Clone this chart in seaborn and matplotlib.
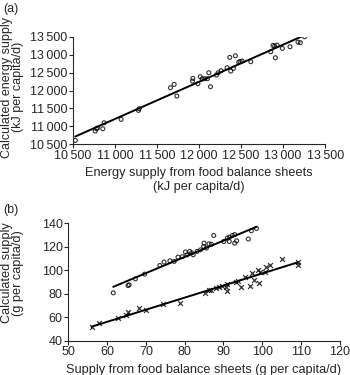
import seaborn as sns
import pandas as pd
import matplotlib.pyplot as plt
from matplotlib.ticker import FuncFormatter

# (a) energy supply, kJ per capita/d
energy_fbs = [10530, 10766, 10781, 10793, 10856, 10872, 11075, 11281, 11289, 11661,
              11705, 11737, 11923, 11927, 11987, 12015, 12039, 12069, 12117, 12137,
              12101, 12208, 12228, 12263, 12334, 12378, 12366, 12433, 12410, 12473,
              12489, 12513, 12616, 12853, 12880, 12908, 12900, 12928, 12991, 13082,
              13177, 13205, 13255]
energy_calc = [10611, 10871, 10936, 10955, 10936, 11103, 11197, 11447, 11494, 12079,
               12172, 11847, 12265, 12339, 12190, 12385, 12330, 12330, 12497, 12107,
               12330, 12432, 12497, 12553, 12636, 12543, 12924, 12970, 12618, 12785,
               12813, 12822, 12804, 13082, 13258, 12915, 13240, 13268, 13175, 13221,
               13351, 13333, 13500]

# (b) upper series (circles), g per capita/d
upper_fbs = [61.6, 65.4, 65.7, 67.3, 69.7, 73.6, 74.7, 76.2, 77.3, 78.3, 79.4, 80.2,
             80.6, 81.3, 81.8, 82.2, 83.2, 84.1, 84.9, 85.0, 85.6, 86.3, 86.9, 87.5,
             90.1, 91.0, 91.6, 92.3, 92.9, 91.5, 92.9, 93.4, 96.4, 97.2, 98.5]
upper_calc = [80.8, 87.0, 87.6, 92.7, 96.7, 104.0, 107.0, 108.0, 107.5, 111.1, 111.5,
              115.5, 113.0, 116.0, 114.8, 113.1, 116.0, 117.3, 120.2, 123.0, 118.8,
              122.4, 122.0, 129.5, 124.4, 127.3, 128.1, 129.5, 130.3, 124.4, 123.0,
              125.0, 126.5, 133.5, 135.5]

# (b) lower series (crosses)
lower_fbs = [56.0, 58.0, 62.9, 65.0, 65.3, 68.3, 70.0, 74.5, 78.8, 85.2, 86.3, 86.9,
             88.2, 88.9, 89.5, 90.6, 90.8, 91.0, 93.2, 93.8, 94.6, 95.5, 96.8, 97.4,
             97.9, 98.9, 99.4, 99.1, 100.7, 100.9, 102.1, 105.2, 109.2, 109.2]
lower_calc = [51.9, 55.0, 59.3, 62.1, 64.1, 67.8, 65.8, 71.0, 72.5, 80.5, 83.3, 83.3,
              85.3, 86.1, 86.7, 86.1, 82.5, 88.0, 90.4, 91.0, 86.1, 94.6, 86.7, 97.5,
              91.8, 100.3, 98.9, 89.5, 98.9, 103.1, 104.3, 109.4, 107.4, 104.6]

df_a = pd.DataFrame({'fbs': energy_fbs, 'calc': energy_calc})
df_up = pd.DataFrame({'fbs': upper_fbs, 'calc': upper_calc})
df_lo = pd.DataFrame({'fbs': lower_fbs, 'calc': lower_calc})

sns.set_style('ticks')
plt.rcParams['font.family'] = ['Liberation Sans', 'DejaVu Sans']
plt.rcParams['font.size'] = 9

fig = plt.figure(figsize=(3.5, 3.75), dpi=100)
ax1 = fig.add_axes([0.208, 0.615, 0.721, 0.287])
ax2 = fig.add_axes([0.195, 0.091, 0.776, 0.314])

circ = {'facecolors': 'none', 'edgecolors': 'black', 's': 8, 'linewidths': 0.8}
line = {'color': 'black', 'lw': 1.4}

sns.regplot(x='fbs', y='calc', data=df_a, ax=ax1, ci=None, marker='o',
            scatter_kws=circ, line_kws=line)
sns.regplot(x='fbs', y='calc', data=df_up, ax=ax2, ci=None, marker='o',
            scatter_kws=circ, line_kws=line)
sns.regplot(x='fbs', y='calc', data=df_lo, ax=ax2, ci=None, marker='x',
            scatter_kws={'color': 'black', 's': 12, 'linewidths': 0.9}, line_kws=line)

thin = FuncFormatter(lambda v, p: f'{int(v) // 1000}\u2009{int(v) % 1000:03d}')
ax1.set_xlim(10500, 13500)
ax1.set_ylim(10500, 13500)
ax1.set_xticks(range(10500, 13501, 500))
ax1.set_yticks(range(10500, 13501, 500))
ax1.xaxis.set_major_formatter(thin)
ax1.yaxis.set_major_formatter(thin)
ax1.set_xlabel('Energy supply from food balance sheets\n(kJ per capita/d)', fontsize=9.2)
ax1.set_ylabel('Calculated energy supply\n(kJ per capita/d)', fontsize=9, linespacing=0.9)
ax1.yaxis.set_label_coords(-0.194, 0.53)

ax2.set_xlim(50, 120)
ax2.set_ylim(40, 140)
ax2.set_xticks(range(50, 121, 10))
ax2.set_yticks(range(40, 141, 20))
ax2.set_xlabel('Supply from food balance sheets (g per capita/d)', fontsize=9.2)
ax2.set_ylabel('Calculated supply\n(g per capita/d)', fontsize=9.2, linespacing=0.9)
ax2.yaxis.set_label_coords(-0.163, 0.58)

for ax in (ax1, ax2):
    sns.despine(ax=ax)
    ax.tick_params(length=3, width=0.8, pad=1, labelsize=9)
    for s in ax.spines.values():
        s.set_linewidth(0.8)

fig.text(0.01, 0.975, '(a)', fontsize=9, va='center')
fig.text(0.01, 0.44, '(b)', fontsize=9, va='center')

fig.savefig('out.png', dpi=100)
